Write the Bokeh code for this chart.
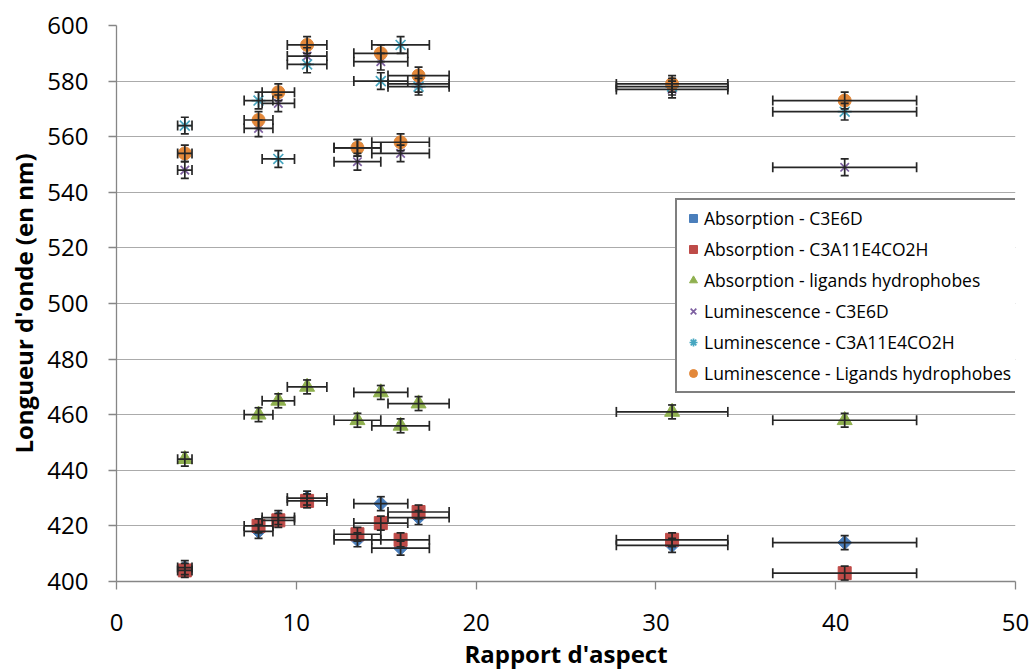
import math
from bokeh.plotting import figure
from bokeh.models import (ColumnDataSource, Whisker, TeeHead, Legend, LegendItem,
                          FixedTicker, Range1d)
from bokeh.embed import file_html
from bokeh.resources import INLINE

# ---------------- data ----------------
aspect = [3.8, 7.9, 9.0, 10.6, 13.4, 14.7, 15.8, 16.8, 30.9, 40.5]
aspect_err = [0.4, 0.8, 0.9, 1.1, 1.3, 1.5, 1.6, 1.7, 3.1, 4.0]

abs_c3e6d = [405, 418, 423, 430, 415, 428, 412, 423, 413, 414]
abs_c3a11 = [404, 420, 422, 429, 417, 421, 415, 425, 415, 403]
abs_lig = [444, 460, 465, 470, 458, 468, 456, 464, 461, 458]
lum_c3e6d = [548, 563, 572, 589, 551, 587, 554, 579, 577, 549]
lum_c3a11 = [564, 573, 552, 586, 556, 580, 593, 578, 578, 569]
lum_lig = [554, 566, 576, 593, 556, 590, 558, 582, 579, 573]

abs_err = 2.5
lum_err = 3.0

labels = ["Absorption - C3E6D", "Absorption - C3A11E4CO2H",
          "Absorption - ligands hydrophobes", "Luminescence - C3E6D",
          "Luminescence - C3A11E4CO2H", "Luminescence - Ligands hydrophobes"]

x_title = "Rapport d'aspect"
y_title = "Longueur d'onde (en nm)"

x_ticks = [0, 10, 20, 30, 40, 50]
y_ticks = [400, 420, 440, 460, 480, 500, 520, 540, 560, 580, 600]

FONT = "Open Sans"

p = figure(width=1032, height=672, output_backend="svg", toolbar_location=None,
           x_range=Range1d(0, 50), y_range=Range1d(400, 600),
           min_border_left=116, min_border_right=17, min_border_top=25,
           min_border_bottom=91)
p.outline_line_color = None
p.background_fill_color = "white"
p.border_fill_color = "white"
p.xgrid.grid_line_color = None
p.ygrid.grid_line_color = "#ababab"
p.ygrid.grid_line_width = 1.2
p.xaxis.ticker = FixedTicker(ticks=x_ticks)
p.yaxis.ticker = FixedTicker(ticks=y_ticks)
p.ygrid.ticker = FixedTicker(ticks=y_ticks)

for ax in (p.xaxis[0], p.yaxis[0]):
    ax.axis_line_color = "#868686"
    ax.axis_line_width = 1.3
    ax.major_tick_line_color = "#868686"
    ax.major_tick_line_width = 1.3
    ax.major_tick_out = 8
    ax.major_tick_in = 0
    ax.minor_tick_line_color = None
    ax.major_label_text_font = FONT
    ax.major_label_text_font_size = "24px"
    ax.major_label_text_color = "black"
    ax.axis_label_text_font = FONT
    ax.axis_label_text_font_size = "24px"
    ax.axis_label_text_font_style = "bold"
    ax.axis_label_text_color = "black"

p.xaxis.axis_label = x_title
p.yaxis.axis_label = y_title
p.xaxis.major_label_standoff = 24
p.yaxis.major_label_standoff = 20
p.xaxis.axis_label_standoff = 3
p.yaxis.axis_label_standoff = 4

series = [
    (abs_c3e6d, abs_err, dict(marker="square", size=10, angle=math.pi / 4,
                              fill_color="#4a7ebb", line_color="#4a7ebb")),
    (abs_c3a11, abs_err, dict(marker="square", size=13, fill_color="#be4b48", line_color="#be4b48")),
    (abs_lig, abs_err, dict(marker="triangle", size=15, fill_color="#8fb04f", line_color="#8fb04f")),
    (lum_c3e6d, lum_err, dict(marker="x", size=12, fill_color=None, line_color="#7d5fa0", line_width=1.7)),
    (lum_c3a11, lum_err, dict(marker="asterisk", size=14, fill_color=None, line_color="#46a6c0", line_width=1.7)),
    (lum_lig, lum_err, dict(marker="circle", size=13, fill_color="#e3883a", line_color="#e3883a")),
]

ERR_COLOR = "#262626"
items = []
for (vals, yerr, style), lab in zip(series, labels):
    src = ColumnDataSource(dict(
        x=aspect, y=vals,
        xl=[a - e for a, e in zip(aspect, aspect_err)],
        xu=[a + e for a, e in zip(aspect, aspect_err)],
        yl=[v - yerr for v in vals],
        yu=[v + yerr for v in vals],
    ))
    wx = Whisker(source=src, base="y", lower="xl", upper="xu", dimension="width",
                 line_color=ERR_COLOR, line_width=1.7, level="glyph",
                 lower_head=TeeHead(size=10, line_color=ERR_COLOR, line_width=1.7),
                 upper_head=TeeHead(size=10, line_color=ERR_COLOR, line_width=1.7))
    wy = Whisker(source=src, base="x", lower="yl", upper="yu", dimension="height",
                 line_color=ERR_COLOR, line_width=1.7, level="glyph",
                 lower_head=TeeHead(size=8, line_color=ERR_COLOR, line_width=1.7),
                 upper_head=TeeHead(size=8, line_color=ERR_COLOR, line_width=1.7))
    p.add_layout(wx)
    p.add_layout(wy)
    r = p.scatter(x="x", y="y", source=src, **style)
    items.append(LegendItem(label=lab, renderers=[r]))

legend = Legend(items=items, location=(559, 188), orientation="vertical",
                border_line_color="black", border_line_width=2.5,
                background_fill_color="white", background_fill_alpha=1.0,
                label_text_font=FONT, label_text_font_size="17.5px",
                label_text_color="black",
                glyph_width=20, glyph_height=22, label_height=22,
                label_standoff=1, padding=6, spacing=7, margin=0)
p.add_layout(legend, "center")

open("out.html", "w").write(file_html(p, INLINE))
